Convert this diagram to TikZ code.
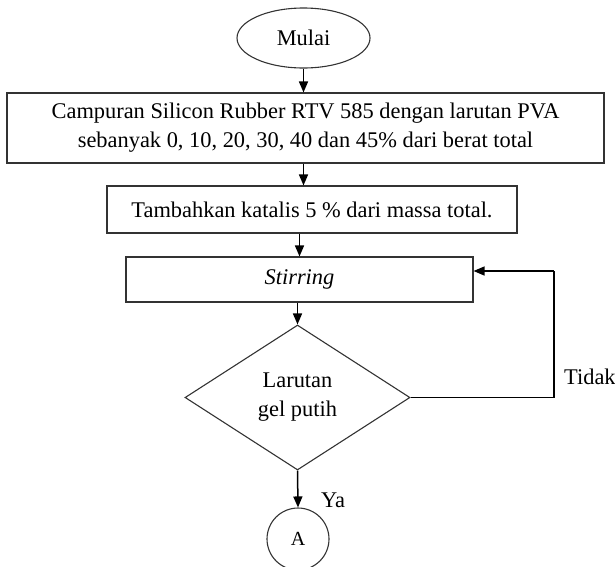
\documentclass[tikz,border=0pt]{standalone}
\usepackage{fontspec}
\setmainfont{Liberation Serif}
\usetikzlibrary{shapes.geometric,arrows.meta}
\tikzset{
  kotak/.style={draw=black!80,line width=1.1pt,rectangle,inner sep=0pt,align=center},
  panah/.style={line width=1.5pt,-{Triangle[length=11pt,width=9pt]}}
}
\begin{document}
\begin{tikzpicture}[x=1pt,y=-1pt]
  \useasboundingbox (0,0) rectangle (615,566);
  {\fontsize{22.4}{29}\selectfont

  % Start: ellipse Mulai
  \node (mulai) [kotak,ellipse,minimum width=133pt,minimum height=60pt] at (303.5,38) {Mulai};%

  % Step 1: campuran
  \node (campur) [kotak,minimum width=597pt,minimum height=70pt] at (305.5,128)
    {Campuran Silicon Rubber RTV 585 dengan larutan PVA\\sebanyak 0, 10, 20, 30, 40 dan 45\% dari berat total};%

  % Step 2: katalis
  \node (katalis) [kotak,minimum width=410pt,minimum height=47pt] at (312,209.5)
    {Tambahkan katalis 5 \% dari massa total.};%

  % Step 3: stirring
  \node (stir) [kotak,minimum width=347pt,minimum height=45pt] at (299.5,279.5) {\textit{Stirring}};%

  % Decision
  \node (cek) [kotak,diamond,aspect=1.55,minimum width=225pt,minimum height=145pt] at (297.5,397.5)
    {Larutan\\gel putih};%

  % Connector A
  \node (konA) [kotak,circle,minimum size=62pt,font=\fontsize{20}{24}\selectfont] at (298,539) {A};%

  % Arrows down the chain
  \draw [panah] (mulai.south) -- (mulai.south |- campur.north);%
  \draw [panah] (campur.south -| mulai.south) -- (mulai.south |- katalis.north);%
  \draw [panah] (stir.north |- katalis.south) -- (stir.north);%
  \draw [panah] (cek.north |- stir.south) -- (cek.north);%
  \draw [panah] (cek.south) -- (konA.north);%

  % Loop back when not white gel
  \coordinate (balik) at (554,271);%
  \draw [line width=1.3pt] (cek.east) -| (balik);%
  \draw [panah] (balik) -- (balik -| stir.east);%

  % Branch labels
  \node (tidak) [anchor=west,inner sep=0pt] at (564,377) {Tidak};%
  \node (ya) [anchor=west,inner sep=0pt] at (321,500) {Ya};%
  }
\end{tikzpicture}
\end{document}
